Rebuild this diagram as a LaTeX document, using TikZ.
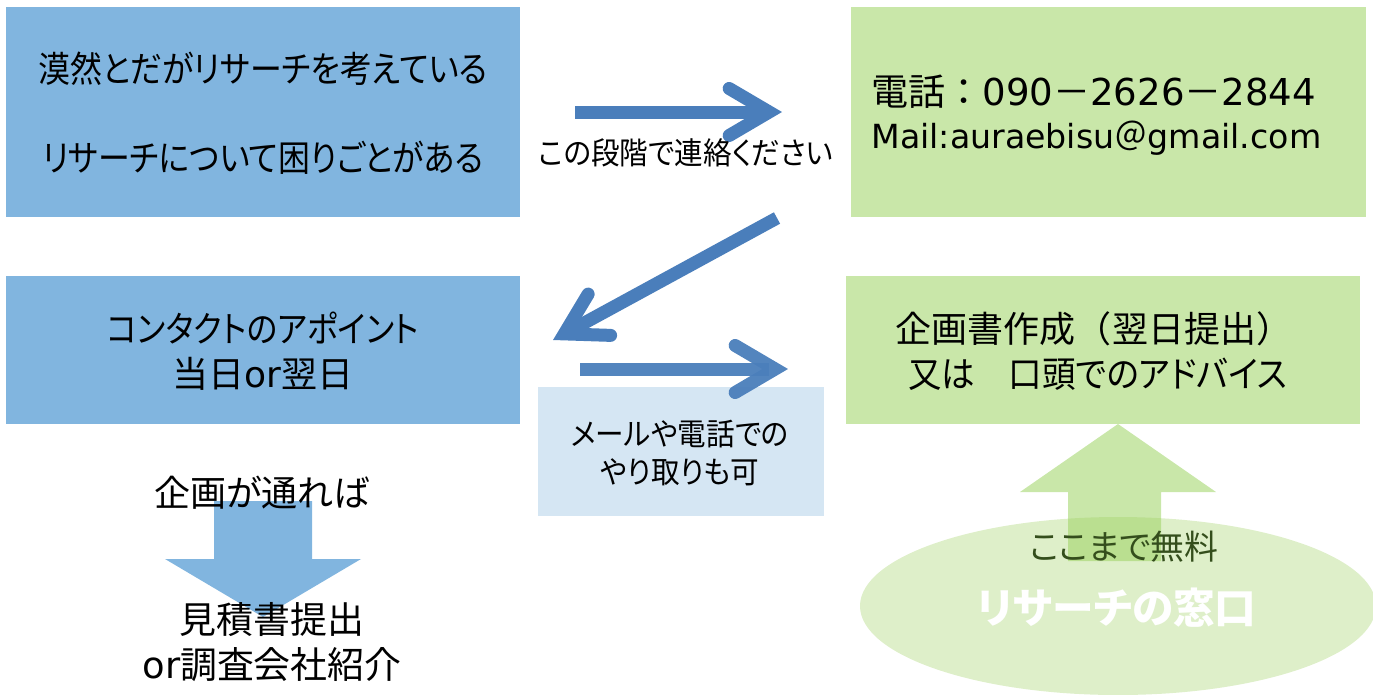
\documentclass[tikz,border=0pt]{standalone}
\usepackage{fontspec}
\setmainfont{Noto Sans CJK JP}[RawFeature=+palt]
\newfontfamily\fullcjk{Noto Sans CJK JP}
\newfontfamily\narrowcjk{Noto Sans CJK JP}[RawFeature=+palt,FakeStretch=.885]
\newfontfamily\slimcjk{Noto Sans CJK JP}[RawFeature=+palt,FakeStretch=.93]
\newfontfamily\latinwide{DejaVu Sans}
\usetikzlibrary{arrows.meta,shapes.geometric}
\definecolor{boxblue}{RGB}{129,181,223}
\definecolor{boxgreen}{RGB}{201,231,169}
\definecolor{boxpale}{RGB}{213,230,243}
\definecolor{arrowblue}{RGB}{74,126,187}
\definecolor{freetext}{RGB}{52,78,28}
\definecolor{ovalgreen}{RGB}{160,209,100}
\tikzset{
  bigtext/.style={font=\fontsize{20.5}{25.5}\selectfont,align=center,inner sep=0pt},
  midtext/.style={font=\fontsize{17.5}{22}\selectfont,align=center,inner sep=0pt},
  linkarrow/.style={arrowblue,line width=.26cm,
    -{Straight Barb[length=.8cm,width=.94cm,line width=.26cm,line cap=round,line join=miter]}},
}
\begin{document}
\begin{tikzpicture}[x=.02cm,y=-.02cm]
\useasboundingbox (0,0) rectangle (1373,694);

\fill[boxblue] (6,7) rectangle (520,217);
\fill[boxgreen] (851,7) rectangle (1366,217);
\fill[boxblue] (6,276) rectangle (520,424);
\fill[boxgreen] (846,276) rectangle (1360,424);
\fill[boxpale] (538,387) rectangle (824,516);

\coordinate (askfrom) at (575,112);
\coordinate (askto) at (782,112);
\coordinate (backfrom) at (777,218);
\coordinate (backto) at (553,340);
\coordinate (mailfrom) at (580,369);
\coordinate (mailto) at (788,369);
\draw[linkarrow] (askfrom) -- (askto);
\draw[linkarrow] (backfrom) -- (backto);
\draw[linkarrow,opacity=.95] (mailfrom) -- (mailto);

\fill[boxblue] (214,501) -- (312,501) -- (312,559) -- (361,559) -- (263,617) -- (165,559) -- (214,559) -- cycle;
\fill[boxgreen] (1118,424) -- (1216,492) -- (1161,492) -- (1161,561) -- (1068,561) -- (1068,492) -- (1020,492) -- cycle;
\fill[ovalgreen,opacity=.35] (1118,606) ellipse (258 and 89);

\node[bigtext] (thinking) at (263,113) {\narrowcjk 漠然とだがリサーチを考えている\\ \\\narrowcjk リサーチについて困りごとがある};
\node[bigtext] (contact) at (263,351) {\narrowcjk コンタクトのアポイント\\当日{\latinwide or}翌日};
\node[bigtext] (planpass) at (262,493) {企画が通れば};
\node[bigtext,font=\fontsize{21}{25.5}\selectfont] (estimate) at (272,642) {見積書提出\\{\latinwide or}調査会社紹介};
\node[midtext] (askhere) at (686,153) {\slimcjk この段階で連絡ください};
\node[midtext] (mailok) at (680,453) {\slimcjk メールや電話での\\\slimcjk やり取りも可};
\node[bigtext,align=left,anchor=west,font=\fontsize{21.1}{24.5}\selectfont] (phone) at (871,115) {{\fullcjk 電話：}{\latinwide 090}{\fullcjk －}{\latinwide 2626}{\fullcjk －}{\latinwide 2844}\\\fontsize{18.9}{24.5}\selectfont{\latinwide Mail:auraebisu}{\fullcjk ＠}{\latinwide gmail.com}};
\node[bigtext] (planning) at (1094,351) {{\fullcjk 企画書作成（翌日提出）}\\\hspace*{4pt}{\slimcjk 又は　口頭でのアドバイス}};
\node[midtext,font=\fontsize{19.3}{24}\selectfont,text=freetext] (free) at (1124,547) {ここまで無料};
\node[font=\fontsize{23.7}{28}\bfseries\selectfont,text=white,inner sep=0pt] (window) at (1117,608) {リサーチの窓口};
\end{tikzpicture}
\end{document}
